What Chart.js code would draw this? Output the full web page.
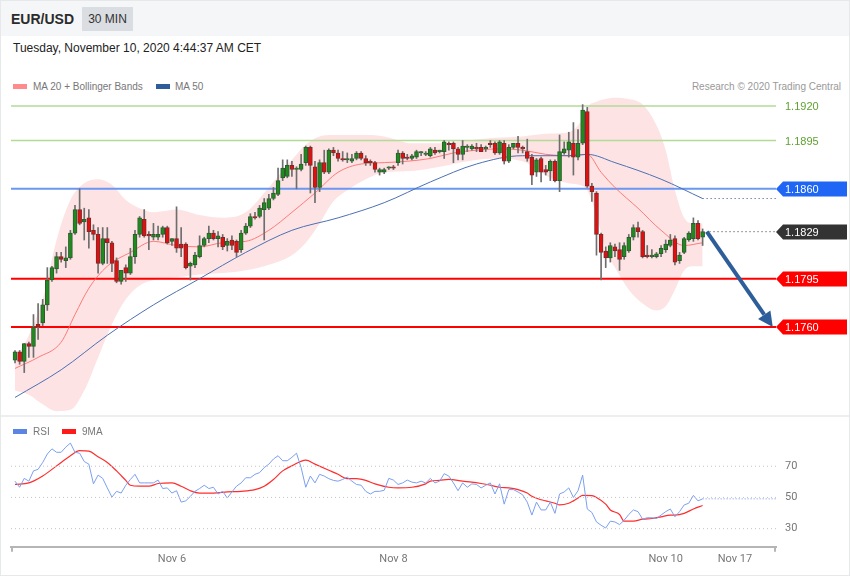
<!DOCTYPE html>
<html><head><meta charset="utf-8">
<script src="https://cdn.jsdelivr.net/npm/chart.js@4.4.1/dist/chart.umd.min.js"></script>
<style>
html,body{margin:0;padding:0;background:#fff;}
#wrap{position:relative;width:850px;height:576px;overflow:hidden;font-family:"Liberation Sans",Arial,sans-serif;background:#fff;}
#top{position:absolute;left:0;top:0;width:850px;height:36px;background:#f5f6f7;}
#pair{position:absolute;left:11px;top:11px;font-size:14px;line-height:16px;font-weight:bold;color:#2b2b2b;}
#tf{position:absolute;left:82px;top:7px;width:51px;height:24px;background:#dadde1;color:#333;font-size:12px;line-height:24px;text-align:center;}
#date{position:absolute;left:13px;top:41px;font-size:12px;line-height:14px;color:#222;}
.leg{position:absolute;font-size:10px;line-height:12px;color:#777;white-space:nowrap;}
.sw{position:absolute;width:14px;height:5px;}
#div{position:absolute;left:0;top:415px;width:850px;height:2px;background:#eceef0;}
#frame{position:absolute;left:0;top:0;width:850px;height:576px;box-sizing:border-box;border:1px solid #e6e8ea;pointer-events:none;}
canvas{position:absolute;left:0;}
</style></head>
<body>
<div id="wrap">
  <div id="top"></div>
  <div id="pair">EUR/USD</div>
  <div id="tf">30 MIN</div>
  <div id="date">Tuesday, November 10, 2020 4:44:37 AM CET</div>
  <div class="sw" style="left:13px;top:84px;background:#ff8c8c;"></div>
  <div class="leg" style="left:33px;top:81px;">MA 20 + Bollinger Bands</div>
  <div class="sw" style="left:156px;top:84px;background:#2e5e9a;"></div>
  <div class="leg" style="left:175px;top:81px;">MA 50</div>
  <div class="leg" style="right:9px;top:81px;color:#999;">Research © 2020 Trading Central</div>
  <canvas id="pc" width="850" height="321" style="top:95px"></canvas>
  <div id="div"></div>
  <div class="sw" style="left:13px;top:429px;background:#5b84e4;"></div>
  <div class="leg" style="left:33px;top:426px;">RSI</div>
  <div class="sw" style="left:62px;top:429px;background:#ff1a1a;"></div>
  <div class="leg" style="left:82px;top:426px;">9MA</div>
  <canvas id="rc" width="850" height="159" style="top:417px"></canvas>
  <div id="frame"></div>
</div>
<script>
// ---------- DATA ----------
const opens = [
1.1736,1.1742,1.1735,1.1748,1.1746,1.1762,1.1763,1.1776,1.1794,1.1802,
1.1811,1.1808,1.1810,1.1828,1.1845,1.1836,1.1839,1.1830,1.1827,1.1806,
1.1824,1.1821,1.1808,1.1793,1.1803,1.1799,1.1811,1.1827,1.1838,1.1827,
1.1825,1.1825,1.1827,1.1832,1.1822,1.1824,1.1820,1.1820,1.1804,1.1805,
1.1811,1.1819,1.1824,1.1828,1.1824,1.1825,1.1819,1.1823,1.1822,1.1816,
1.1828,1.1833,1.1840,1.1840,1.1845,1.1846,1.1853,1.1856,1.1868,1.1869,
1.1877,1.1874,1.1874,1.1879,1.1890,1.1876,1.1861,1.1879,1.1872,1.1888,
1.1886,1.1882,1.1881,1.1880,1.1882,1.1886,1.1882,1.1880,1.1879,1.1872,
1.1872,1.1875,1.1876,1.1879,1.1886,1.1883,1.1882,1.1883,1.1886,1.1885,
1.1884,1.1888,1.1887,1.1887,1.1893,1.1893,1.1889,1.1885,1.1890,1.1889,
1.1890,1.1890,1.1889,1.1893,1.1893,1.1886,1.1893,1.1880,1.1890,1.1893,
1.1890,1.1887,1.1883,1.1872,1.1882,1.1874,1.1873,1.1880,1.1866,1.1886,
1.1888,1.1893,1.1883,1.1893,1.1916,1.1862,1.1857,1.1827,1.1815,1.1810,
1.1818,1.1816,1.1811,1.1815,1.1825,1.1832,1.1829,1.1812,1.1811,1.1811,
1.1813,1.1816,1.1819,1.1824,1.1808,1.1814,1.1823,1.1824,1.1835,1.1825];
const highs = [
1.1743,1.1743,1.1748,1.1749,1.1769,1.1777,1.1780,1.1803,1.1804,1.1814,
1.1814,1.1818,1.1830,1.1848,1.1860,1.1846,1.1845,1.1834,1.1832,1.1832,
1.1832,1.1822,1.1810,1.1801,1.1805,1.1817,1.1830,1.1840,1.1845,1.1829,
1.1835,1.1833,1.1833,1.1833,1.1824,1.1847,1.1832,1.1821,1.1807,1.1814,
1.1826,1.1825,1.1833,1.1830,1.1829,1.1827,1.1824,1.1826,1.1823,1.1830,
1.1835,1.1842,1.1843,1.1848,1.1853,1.1856,1.1861,1.1875,1.1881,1.1881,
1.1880,1.1876,1.1885,1.1891,1.1891,1.1880,1.1881,1.1888,1.1889,1.1890,
1.1888,1.1887,1.1886,1.1885,1.1887,1.1887,1.1884,1.1881,1.1880,1.1875,
1.1875,1.1876,1.1877,1.1888,1.1887,1.1885,1.1885,1.1888,1.1887,1.1887,
1.1890,1.1890,1.1888,1.1895,1.1894,1.1894,1.1890,1.1895,1.1892,1.1892,
1.1893,1.1892,1.1891,1.1895,1.1894,1.1895,1.1895,1.1892,1.1893,1.1898,
1.1891,1.1896,1.1885,1.1882,1.1883,1.1877,1.1881,1.1881,1.1899,1.1894,
1.1901,1.1908,1.1903,1.1921,1.1919,1.1864,1.1858,1.1828,1.1818,1.1821,
1.1820,1.1821,1.1821,1.1827,1.1834,1.1836,1.1830,1.1819,1.1816,1.1814,
1.1819,1.1823,1.1827,1.1826,1.1814,1.1825,1.1829,1.1839,1.1837,1.1831];
const lows = [
1.1734,1.1733,1.1727,1.1738,1.1738,1.1751,1.1761,1.1772,1.1793,1.1799,
1.1807,1.1803,1.1809,1.1827,1.1834,1.1823,1.1817,1.1823,1.1799,1.1805,
1.1806,1.1800,1.1792,1.1791,1.1793,1.1798,1.1806,1.1825,1.1825,1.1816,
1.1823,1.1823,1.1825,1.1820,1.1819,1.1814,1.1811,1.1802,1.1794,1.1803,
1.1810,1.1818,1.1821,1.1823,1.1818,1.1816,1.1815,1.1816,1.1811,1.1814,
1.1827,1.1832,1.1838,1.1839,1.1823,1.1845,1.1852,1.1855,1.1866,1.1868,
1.1869,1.1860,1.1873,1.1877,1.1857,1.1850,1.1858,1.1871,1.1871,1.1884,
1.1880,1.1880,1.1879,1.1879,1.1881,1.1881,1.1877,1.1877,1.1872,1.1870,
1.1871,1.1874,1.1874,1.1877,1.1878,1.1881,1.1881,1.1882,1.1884,1.1884,
1.1883,1.1885,1.1886,1.1882,1.1888,1.1879,1.1881,1.1881,1.1887,1.1888,
1.1887,1.1887,1.1887,1.1890,1.1885,1.1885,1.1878,1.1879,1.1889,1.1886,
1.1886,1.1880,1.1863,1.1869,1.1865,1.1870,1.1866,1.1865,1.1858,1.1885,
1.1883,1.1870,1.1881,1.1892,1.1861,1.1851,1.1812,1.1794,1.1803,1.1807,
1.1811,1.1801,1.1809,1.1814,1.1823,1.1825,1.1810,1.1810,1.1810,1.1810,
1.1811,1.1814,1.1818,1.1805,1.1806,1.1813,1.1822,1.1822,1.1823,1.1819];
const closes = [
1.1742,1.1735,1.1748,1.1746,1.1760,1.1760,1.1776,1.1794,1.1803,1.1811,
1.1809,1.1810,1.1828,1.1845,1.1835,1.1838,1.1829,1.1827,1.1806,1.1824,
1.1821,1.1806,1.1793,1.1801,1.1799,1.1811,1.1827,1.1839,1.1826,1.1826,
1.1827,1.1827,1.1832,1.1821,1.1824,1.1817,1.1817,1.1803,1.1806,1.1812,
1.1819,1.1824,1.1828,1.1824,1.1826,1.1818,1.1822,1.1819,1.1814,1.1828,
1.1833,1.1840,1.1839,1.1846,1.1850,1.1853,1.1857,1.1866,1.1875,1.1877,
1.1874,1.1875,1.1878,1.1890,1.1877,1.1861,1.1879,1.1872,1.1888,1.1886,
1.1882,1.1881,1.1882,1.1882,1.1886,1.1882,1.1879,1.1879,1.1874,1.1874,
1.1874,1.1876,1.1875,1.1886,1.1882,1.1882,1.1884,1.1887,1.1887,1.1886,
1.1889,1.1886,1.1888,1.1894,1.1892,1.1889,1.1885,1.1891,1.1891,1.1891,
1.1889,1.1887,1.1890,1.1892,1.1886,1.1894,1.1880,1.1890,1.1893,1.1890,
1.1889,1.1882,1.1870,1.1881,1.1872,1.1872,1.1880,1.1866,1.1887,1.1889,
1.1894,1.1883,1.1893,1.1917,1.1862,1.1858,1.1827,1.1814,1.1810,1.1819,
1.1815,1.1809,1.1819,1.1825,1.1832,1.1829,1.1811,1.1811,1.1812,1.1813,
1.1817,1.1820,1.1823,1.1807,1.1812,1.1824,1.1828,1.1835,1.1824,1.1829];

// Bollinger bands (read at sampled candle positions)
const bbIdx = [0,3,6,9,12,15,18,21,24,27,30,35,40,45,50,55,60,63,66,69,72,76,80,86,92,98,104,110,116,120,123,124,126,128,130,133,136,139,141,143,145,147,149];
const bbUpper = [1.1736,1.1754,1.1780,1.1823,1.1852,1.1864,1.1867,1.1863,1.1852,1.1846,
1.1843,1.1845,1.1841,1.1839,1.1843,1.1861,1.1881,1.1892,1.1898,1.1899,
1.1899,1.1899,1.1898,1.1893,1.1893,1.1895,1.1897,1.1898,1.1900,1.1901,
1.1911,1.1919,1.1923,1.1925,1.1926,1.1925,1.1921,1.1906,1.1888,1.1859,
1.1839,1.1835,1.1835];
const bbLower = [1.1714,1.1711,1.1704,1.1699,1.1700,1.1714,1.1738,1.1762,1.1780,1.1790,
1.1794,1.1796,1.1798,1.1799,1.1801,1.1805,1.1812,1.1821,1.1835,1.1851,
1.1859,1.1867,1.1872,1.1873,1.1876,1.1880,1.1882,1.1880,1.1868,1.1864,
1.1862,1.1859,1.1841,1.1816,1.1803,1.1787,1.1777,1.1772,1.1775,1.1787,
1.1801,1.1804,1.1804];
const ma20Idx = [0,5,10,13,16,20,25,30,35,40,45,50,55,60,65,70,75,80,85,90,95,100,105,110,115,120,124,127,130,135,140,145,149];
const ma20 = [1.1730,1.1738,1.1749,1.1769,1.1788,1.1804,1.1814,1.1822,1.1819,1.1818,1.1821,1.1822,1.1830,1.1843,1.1857,1.1872,1.1878,1.1879,1.1880,1.1882,1.1886,1.1888,1.1889,1.1888,1.1885,1.1884,1.1885,1.1872,1.1861,1.1846,1.1830,1.1819,1.1821];
const ma50Idx = [0,10,20,30,40,50,60,70,80,90,100,110,120,124,130,140,149];
const ma50 = [1.1709,1.1729,1.1754,1.1776,1.1795,1.1814,1.1830,1.1839,1.1850,1.1865,1.1878,1.1884,1.1884,1.1885,1.1879,1.1867,1.1853];

// key levels
const levelValues = [1.1920,1.1895,1.1860,1.1829,1.1795,1.1760];
const levelLabels = ['1.1920','1.1895','1.1860','1.1829','1.1795','1.1760'];
const levelKinds  = ['res','res','pivot','last','sup','sup'];
const arrowStart = [149.9, 1.1829];
const arrowEnd   = [164.2, 1.1760];

// RSI
const rsi = [
60.4,56.5,62.2,60.4,67.0,68.0,72.4,77.8,81.1,78.9,
78.9,82.2,84.8,78.9,78.3,73.0,71.3,58.7,64.3,62.2,
56.1,50.2,53.9,52.8,57.8,61.5,64.8,59.3,59.3,59.3,
59.3,61.1,55.7,56.1,52.8,54.3,47.0,47.8,50.7,53.9,
55.7,57.8,55.7,56.5,52.2,53.9,49.6,53.5,57.2,59.3,
62.6,62.6,64.8,65.9,69.1,71.3,74.6,76.7,73.5,73.5,
75.7,78.3,69.1,56.5,63.7,59.3,64.8,63.7,62.0,60.9,
60.4,61.5,63.0,60.4,58.3,57.8,53.9,52.2,53.9,53.9,
54.6,62.2,61.1,58.3,59.3,61.1,59.8,59.3,60.4,59.3,
62.2,59.3,60.4,65.2,63.7,59.3,54.3,59.3,56.5,58.7,
58.3,56.1,57.8,59.3,52.2,58.7,45.7,55.0,55.0,53.5,
51.7,47.0,38.7,47.0,42.0,42.0,47.0,39.8,52.2,53.5,
56.1,50.0,54.3,64.3,42.6,40.4,34.3,32.2,30.4,34.8,
34.3,32.6,35.4,39.1,42.0,40.9,36.1,37.0,37.0,36.5,
38.7,40.9,42.6,37.6,40.9,45.2,46.3,51.3,47.8,49.1];
const rsiMaIdx = [0,3,6,9,12,14,16,18,20,22,24,25,27,29,31,34,36,38,40,43,46,49,52,54,56,58,60,63,65,68,70,72,74,76,78,81,83,86,89,90,92,94,97,99,101,103,105,107,109,111,112,114,115,117,118,120,121,122,123,125,126,128,129,131,132,134,136,138,140,142,143,145,147,149];
const rsiMa = [58.3,59.3,63.7,70.2,76.7,80.0,79.6,76.1,72.4,67.0,60.9,57.8,57.2,57.2,58.9,59.3,57.2,54.3,52.8,52.8,53.5,53.9,55.0,57.2,61.5,67.0,70.2,73.9,71.3,67.4,64.8,62.0,62.0,60.9,58.7,56.5,56.1,56.5,58.7,60.4,60.9,61.5,60.4,59.8,58.9,57.8,56.5,56.1,55.0,52.8,50.7,48.5,47.8,46.3,45.2,46.3,47.8,49.6,51.3,51.1,50.0,45.7,42.0,39.1,34.8,34.8,36.1,36.5,37.6,38.7,38.7,39.8,42.6,44.8];
const rsiLevels = [70,50,30];
const dateTickIdx = [34,82,141,156];
const dateTickLabels = ['Nov 6','Nov 8','Nov 10','Nov 17'];

// ---------- CHARTS ----------
Chart.defaults.font.family = 'Roboto, "Liberation Sans", Arial, sans-serif';
const xMin = -0.87, xMax = 164.9;
const N = closes.length;
const idx = closes.map((_, i) => i);
const pts = (xs, ys) => xs.map((x, k) => ({x, y: ys[k]}));
const hline = v => [{x: xMin, y: v}, {x: xMax, y: v}];

const levelStyles = {
  res:   {line:'#b2db98', width:1.3, text:'#5fa231', tag:null},
  pivot: {line:'#6a97f2', width:2,   text:'#ffffff', tag:'#1f66f4'},
  last:  {line:null,      width:0,   text:'#ffffff', tag:'#333333'},
  sup:   {line:'#ff0000', width:2,   text:'#ffffff', tag:'#ff0000'}
};

const lineBase = {type:'line', pointRadius:0, pointHoverRadius:0, fill:false};
const priceSets = [
  Object.assign({}, lineBase, {data: pts(bbIdx, bbUpper), borderWidth:0, borderColor:'rgba(0,0,0,0)',
     fill:'+1', backgroundColor:'rgba(252,200,200,0.5)', cubicInterpolationMode:'monotone', order:20}),
  Object.assign({}, lineBase, {data: pts(bbIdx, bbLower), borderWidth:0, borderColor:'rgba(0,0,0,0)',
     cubicInterpolationMode:'monotone', order:20})
];
levelValues.forEach((v, k) => {
  const st = levelStyles[levelKinds[k]];
  if (!st.line) return;
  priceSets.push(Object.assign({}, lineBase, {data: hline(v), borderColor: st.line, borderWidth: st.width, order:15}));
});
priceSets.push(Object.assign({}, lineBase, {data: pts(ma50Idx, ma50), borderColor:'#4c70b3', borderWidth:1, cubicInterpolationMode:'monotone', order:10}));
priceSets.push(Object.assign({}, lineBase, {data: pts(ma20Idx, ma20), borderColor:'rgba(255,105,105,0.85)', borderWidth:1, cubicInterpolationMode:'monotone', order:10}));
priceSets.push({type:'bar', data: idx.map(i => ({x:i, y:[lows[i], highs[i]]})), backgroundColor:'#6e6e6e',
  barThickness:1, grouped:false, order:5});
priceSets.push({type:'bar', data: idx.map(i => ({x:i, y:[opens[i], closes[i]]})),
  backgroundColor: idx.map(i => closes[i] >= opens[i] ? '#1f8a1f' : '#e01010'),
  borderColor: idx.map(i => closes[i] >= opens[i] ? '#2f5a2f' : '#7a2a2a'),
  borderWidth:1, borderSkipped:false, barThickness:4, grouped:false, order:4});
priceSets.push(Object.assign({}, lineBase, {data: [{x:N-1, y:ma50[ma50.length-1]}, {x:xMax, y:ma50[ma50.length-1]}],
  borderColor:'#2d4a80', borderWidth:1, borderDash:[1,3], order:3}));
priceSets.push(Object.assign({}, lineBase, {data: [{x:N-1+1.5, y:closes[N-1]}, {x:xMax, y:closes[N-1]}],
  borderColor:'#333', borderWidth:1, borderDash:[1,3], order:3}));

const tagPlugin = {
  id:'tags',
  afterDatasetsDraw(chart){
    const {ctx, chartArea:a, scales:{x, y}} = chart;
    ctx.save();
    const x0 = x.getPixelForValue(arrowStart[0]), y0 = y.getPixelForValue(arrowStart[1]);
    const x1 = x.getPixelForValue(arrowEnd[0]), y1 = y.getPixelForValue(arrowEnd[1]);
    const ang = Math.atan2(y1 - y0, x1 - x0), hl = 15, hw = 7.5;
    const bx = x1 - hl * Math.cos(ang), by = y1 - hl * Math.sin(ang);
    ctx.strokeStyle = '#2e5e9a'; ctx.fillStyle = '#2e5e9a'; ctx.lineWidth = 4;
    ctx.beginPath(); ctx.moveTo(x0, y0); ctx.lineTo(bx, by); ctx.stroke();
    ctx.beginPath(); ctx.moveTo(x1, y1);
    ctx.lineTo(bx + hw * Math.sin(ang), by - hw * Math.cos(ang));
    ctx.lineTo(bx - hw * Math.sin(ang), by + hw * Math.cos(ang));
    ctx.closePath(); ctx.fill();
    ctx.font = '11px "Liberation Sans", Arial, sans-serif';
    ctx.textBaseline = 'middle'; ctx.textAlign = 'left';
    levelValues.forEach((v, k) => {
      const st = levelStyles[levelKinds[k]];
      const yy = Math.round(y.getPixelForValue(v));
      if (st.tag) {
        ctx.fillStyle = st.tag;
        ctx.beginPath();
        ctx.moveTo(a.right, yy);
        ctx.lineTo(a.right + 7, yy - 7.5);
        ctx.lineTo(847, yy - 7.5);
        ctx.lineTo(847, yy + 7.5);
        ctx.lineTo(a.right + 7, yy + 7.5);
        ctx.closePath(); ctx.fill();
      }
      ctx.fillStyle = st.text;
      ctx.fillText(levelLabels[k], a.right + 9, yy + 0.5);
    });
    ctx.restore();
  }
};

new Chart(document.getElementById('pc'), {
  type:'bar',
  data:{datasets: priceSets},
  options:{
    responsive:false, animation:false, devicePixelRatio:1,
    layout:{padding:{left:11, right:74, top:0, bottom:1}},
    plugins:{legend:{display:false}, tooltip:{enabled:false}},
    scales:{
      x:{type:'linear', min:xMin, max:xMax, display:false, offset:false, grid:{offset:false}},
      y:{type:'linear', min:1.169628, max:1.192796, display:false}
    }
  },
  plugins:[tagPlugin]
});

const endTicks = {
  id:'endTicks',
  afterDraw(chart){
    const {ctx, chartArea:a} = chart;
    ctx.save(); ctx.strokeStyle = '#b5b5b5'; ctx.lineWidth = 2;
    [a.left + 1, a.right - 1].forEach(px => { ctx.beginPath(); ctx.moveTo(px, a.bottom); ctx.lineTo(px, a.bottom + 5); ctx.stroke(); });
    ctx.restore();
  }
};

const rsiSets = rsiLevels.map(v => Object.assign({}, lineBase, {data: hline(v), borderColor:'#c4c4c4', borderWidth:1, borderDash:[1,3]}));
rsiSets.push(Object.assign({}, lineBase, {data: pts(idx, rsi), borderColor:'#7b9ff0', borderWidth:1}));
rsiSets.push(Object.assign({}, lineBase, {data: [{x:N-1, y:rsi[N-1]}, {x:xMax, y:rsi[N-1]}], borderColor:'#6f93ea', borderWidth:1, borderDash:[1,2]}));
rsiSets.push(Object.assign({}, lineBase, {data: pts(rsiMaIdx, rsiMa), borderColor:'#ff2d2d', borderWidth:1.2, cubicInterpolationMode:'monotone'}));

new Chart(document.getElementById('rc'), {
  type:'line',
  data:{datasets: rsiSets},
  options:{
    responsive:false, animation:false, devicePixelRatio:1,
    layout:{padding:{left:11, right:0, top:23, bottom:4}},
    plugins:{legend:{display:false}, tooltip:{enabled:false}},
    scales:{
      x:{type:'linear', min:xMin, max:xMax, position:'bottom',
         grid:{display:false, drawTicks:false},
         border:{display:true, color:'#b5b5b5', width:2},
         afterBuildTicks: s => { s.ticks = dateTickIdx.map(v => ({value:v})); },
         ticks:{autoSkip:false, maxRotation:0, color:'#777', font:{size:11}, padding:6,
                callback:(v, i) => dateTickLabels[i]}},
      y:{type:'linear', min:18.39, max:86.77, position:'right',
         grid:{display:false, drawTicks:false}, border:{display:false},
         afterBuildTicks: s => { s.ticks = rsiLevels.map(v => ({value:v})); },
         afterFit: s => { s.width = 74; },
         ticks:{color:'#777', font:{size:11}, padding:9, callback: v => String(v)}}
    }
  },
  plugins:[endTicks]
});
</script>
</body></html>
